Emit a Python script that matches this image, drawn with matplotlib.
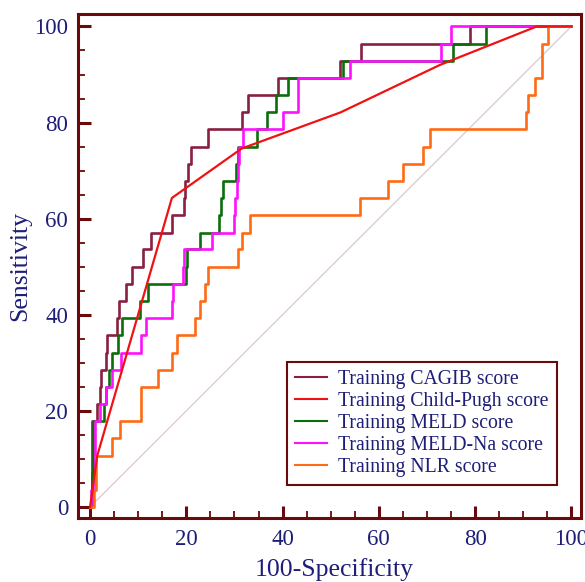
import numpy as np
import matplotlib
matplotlib.use("Agg")
from matplotlib import pyplot as plt
from matplotlib.ticker import MultipleLocator

# ROC data (100-Specificity, Sensitivity), step points in "steps-post" order
cagib_fpr = [0, 0.4, 1.5, 2.1, 2.3, 3.3, 3.6, 5.6, 6.0, 7.4, 8.7, 11.0, 12.6, 17.1,
             19.5, 19.7, 20.3, 20.9, 24.4, 31.5, 32.9, 39.0, 51.9, 56.3, 78.9, 100]
cagib_tpr = [0, 17.9, 21.4, 25.0, 28.6, 32.1, 35.7, 39.3, 42.9, 46.4, 50.0, 53.6, 57.1, 60.7,
             64.3, 67.9, 71.4, 75.0, 78.6, 82.1, 85.7, 89.3, 92.9, 96.4, 100, 100]

cp_fpr = [0, 1.5, 17.0, 31.5, 52.0, 72.7, 92.8, 100]
cp_tpr = [0, 10.7, 64.3, 74.6, 82.1, 92.0, 100, 100]

meld_fpr = [0, 0.4, 0.6, 2.8, 3.3, 3.9, 4.5, 5.9, 6.6, 10.4, 12.1, 19.9, 20.1, 22.8,
            26.7, 27.1, 27.6, 30.4, 30.8, 34.6, 36.7, 38.6, 41.2, 52.6, 75.4, 82.2, 100]
meld_tpr = [0, 7.1, 17.9, 21.4, 25.0, 28.6, 32.1, 35.7, 39.3, 42.9, 46.4, 50.0, 53.6, 57.1,
            60.7, 64.3, 67.9, 71.4, 75.0, 78.6, 82.1, 85.7, 89.3, 92.9, 96.4, 100, 100]

meldna_fpr = [0, 0.1, 1.0, 2.1, 3.3, 4.5, 6.4, 10.5, 11.6, 17.0, 17.2, 19.4, 19.5, 25.3,
              29.8, 30.2, 30.5, 30.7, 31.0, 31.8, 40.0, 43.2, 43.3, 53.9, 72.9, 75.0, 100]
meldna_tpr = [0, 3.6, 17.9, 21.4, 25.0, 28.6, 32.1, 35.7, 39.3, 42.9, 46.4, 50.0, 53.6, 57.1,
              60.7, 64.3, 67.9, 71.4, 75.0, 78.6, 82.1, 85.7, 89.3, 92.9, 96.4, 100, 100]

nlr_fpr = [0, 0.9, 1.2, 1.3, 4.5, 6.2, 10.5, 10.6, 14.2, 17.0, 18.1, 21.8, 22.8, 23.9,
           24.6, 30.8, 31.5, 33.2, 56.1, 61.8, 65.1, 69.2, 70.6, 90.6, 91.0, 92.4, 93.8,
           93.9, 95.1, 100]
nlr_tpr = [0, 3.6, 7.1, 10.7, 14.3, 17.9, 21.4, 25.0, 28.6, 32.1, 35.7, 39.3, 42.9, 46.4,
           50.0, 53.6, 57.1, 60.7, 64.3, 67.9, 71.4, 75.0, 78.6, 82.1, 85.7, 89.3, 92.9,
           96.4, 100, 100]

labels = ['Training CAGIB score', 'Training Child-Pugh score', 'Training MELD score',
          'Training MELD-Na score', 'Training NLR score']

maroon = '#6b0a0a'
navy = '#1e1e78'

plt.rcParams['font.family'] = ['Liberation Serif', 'DejaVu Serif']

fig = plt.figure(figsize=(5.85, 5.82), dpi=100)
ax = fig.add_axes([0.133, 0.110, 0.861, 0.866])

# reference diagonal
ax.plot([0, 100], [0, 100], color='#dcc8cc', lw=0.9, zorder=1)

lw = 1.9
ax.plot(cagib_fpr, cagib_tpr, drawstyle='steps-post', color='#8a2040', lw=lw, zorder=2, label=labels[0])
ax.plot(meld_fpr, meld_tpr, drawstyle='steps-post', color='#0b6e0b', lw=lw, zorder=3, label=labels[2])
ax.plot(meldna_fpr, meldna_tpr, drawstyle='steps-post', color='#ff10ff', lw=lw, zorder=4, label=labels[3])
ax.plot(nlr_fpr, nlr_tpr, drawstyle='steps-post', color='#ff6a14', lw=lw, zorder=5, label=labels[4])
ax.plot(cp_fpr, cp_tpr, color='#f01212', lw=1.6, zorder=6, label=labels[1])

ax.set_xlim(-2.55, 102.1)
ax.set_ylim(-2.3, 102.6)

for s in ax.spines.values():
    s.set_color(maroon)
    s.set_linewidth(2.2)

ax.xaxis.set_major_locator(MultipleLocator(20))
ax.xaxis.set_minor_locator(MultipleLocator(5))
ax.yaxis.set_major_locator(MultipleLocator(20))
ax.yaxis.set_minor_locator(MultipleLocator(5))
ax.tick_params(which='major', direction='in', length=9, width=2.2, color=maroon,
               labelsize=16.5, labelcolor=navy)
ax.tick_params(which='minor', direction='in', length=5, width=1.3, color=maroon)
ax.tick_params(axis='x', which='major', pad=8)
ax.tick_params(axis='y', which='major', pad=7)

ax.set_xlabel('100-Specificity', fontsize=18.5, color=navy)
ax.set_ylabel('Sensitivity', fontsize=18.5, color=navy)
ax.xaxis.set_label_coords(0.508, -0.080)
ax.yaxis.set_label_coords(-0.092, 0.5)

handles, labs = ax.get_legend_handles_labels()
order = [labs.index(l) for l in labels]
leg = ax.legend([handles[i] for i in order], [labs[i] for i in order],
                loc='upper left', bbox_to_anchor=(0.4147, 0.310), fontsize=14.2,
                frameon=True, fancybox=False, edgecolor=maroon, framealpha=1,
                handlelength=1.6, handletextpad=0.6, labelspacing=0.15,
                borderpad=0.42, borderaxespad=0, labelcolor=navy)
leg.get_frame().set_linewidth(1.5)
for h in leg.legend_handles:
    h.set_linewidth(1.5)

fig.savefig('out.png', dpi=100)
